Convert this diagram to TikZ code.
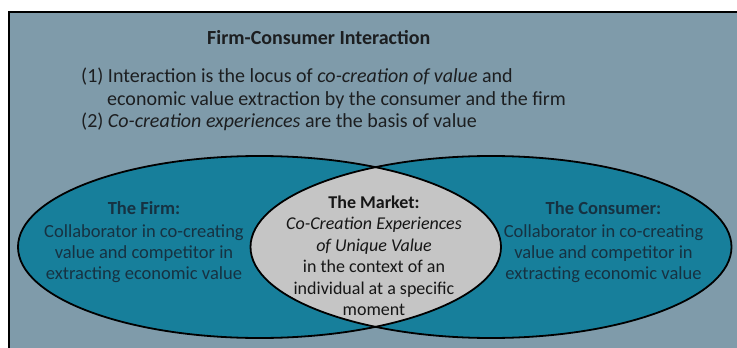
\documentclass[tikz,border=0pt]{standalone}
\usepackage{fontspec}
\setmainfont{Carlito}
\definecolor{bgc}{HTML}{7F9BAA}
\definecolor{ellfill}{HTML}{177F9B}
\definecolor{lensfill}{HTML}{C5C5C5}
\definecolor{hdtxt}{HTML}{1C1E20}
\definecolor{sidetxt}{HTML}{163242}
\definecolor{mkttxt}{HTML}{161616}
\tikzset{
  txt/.style={inner sep=0pt, anchor=base, font=\fontsize{18}{21.5}\selectfont},
  hdline/.style={txt, anchor=base west, text=hdtxt, font=\fontsize{20}{23}\selectfont},
  sideline/.style={txt, text=sidetxt, font=\fontsize{18.5}{21.5}\selectfont},
  mktline/.style={txt, text=mkttxt},
  ell/.style={line width=1.8pt, draw=black}
}
\begin{document}
\begin{tikzpicture}[x=1pt,y=-1pt]
\useasboundingbox (0,0) rectangle (737,348);
\clip (0,0) rectangle (737,348);
\fill[white] (0,0) rectangle (737,348);
\fill[bgc] (9,12) rectangle (745,355);
\draw[line width=2pt] (9,355) -- (9,12) -- (745,12);

% ellipses
\fill[ellfill] (259.5,247) ellipse [x radius=241.5, y radius=91];
\fill[ellfill] (491,247) ellipse [x radius=240.5, y radius=91];
\begin{scope}
  \clip (259.5,247) ellipse [x radius=241.5, y radius=91];
  \fill[lensfill] (491,247) ellipse [x radius=240.5, y radius=91];
\end{scope}
\draw[ell] (259.5,247) ellipse [x radius=241.5, y radius=91];
\draw[ell] (491,247) ellipse [x radius=240.5, y radius=91];

% header
\node[hdline, font=\fontsize{20}{23}\selectfont\bfseries] (title) at (207,44) {Firm-Consumer Interaction};
\node[hdline] (h1) at (81,82) {(1) Interaction is the locus of \textit{co-creation of value} and};
\node[hdline] (h2) at (107,105) {economic value extraction by the consumer and the firm};
\node[hdline] (h3) at (81,127) {(2) \textit{Co-creation experiences} are the basis of value};

% firm
\node[sideline, font=\fontsize{18.5}{21.5}\selectfont\bfseries] (f0) at (144,214) {The Firm:};
\node[sideline] (f1) at (144,237) {Collaborator in co-creating};
\node[sideline] (f2) at (144,258) {value and competitor in};
\node[sideline] (f3) at (144,279) {extracting economic value};

% consumer
\node[sideline, font=\fontsize{18.5}{21.5}\selectfont\bfseries] (c0) at (603.5,214) {The Consumer:};
\node[sideline] (c1) at (603.5,237) {Collaborator in co-creating};
\node[sideline] (c2) at (603.5,258) {value and competitor in};
\node[sideline] (c3) at (603.5,279) {extracting economic value};

% market
\node[mktline, font=\fontsize{18}{21.5}\selectfont\bfseries] (m0) at (374,208) {The Market:};
\node[mktline] (m1) at (374,229.5) {\textit{Co-Creation Experiences}};
\node[mktline] (m2) at (374,251) {\textit{of Unique Value}};
\node[mktline] (m3) at (374,272.5) {in the context of an};
\node[mktline] (m4) at (374,294) {individual at a specific};
\node[mktline] (m5) at (374,315.5) {moment};
\end{tikzpicture}
\end{document}
